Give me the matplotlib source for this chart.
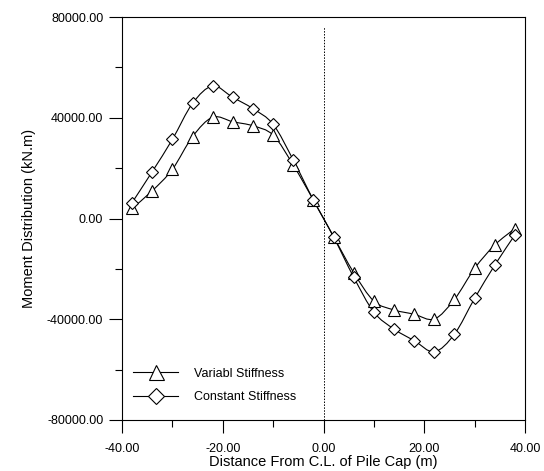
import numpy as np
import matplotlib
matplotlib.use('Agg')
import matplotlib.pyplot as plt
from matplotlib.path import Path
from matplotlib.patches import PathPatch
from matplotlib.ticker import MultipleLocator, FormatStrFormatter

plt.rcParams['font.family'] = ['Liberation Sans', 'DejaVu Sans']

# distance of each pile from the cap centre line (m)
distance = [-38, -34, -30, -26, -22, -18, -14, -10, -6, -2,
            2, 6, 10, 14, 18, 22, 26, 30, 34, 38]

# bending moment (kN.m)
moment_variable = [4000, 11000, 19500, 32500, 40200, 38400, 36800, 33100, 21200, 7300,
                   -7200, -21500, -32800, -36300, -38000, -39900, -32100, -19800, -10500, -4000]
moment_constant = [6300, 18600, 31400, 45700, 52600, 48100, 43600, 37400, 23200, 7300,
                   -7300, -23300, -37200, -43900, -48500, -52900, -45900, -31700, -18500, -6500]


def smooth_path(x, y):
    # Catmull-Rom curve through the points, written as cubic Bezier segments
    x = np.asarray(x, float)
    y = np.asarray(y, float)
    pts = np.column_stack([x, y])
    n = len(pts)
    verts = [pts[0]]
    codes = [Path.MOVETO]
    for i in range(n - 1):
        p0 = pts[i - 1] if i > 0 else pts[i]
        p1 = pts[i]
        p2 = pts[i + 1]
        p3 = pts[i + 2] if i + 2 < n else pts[i + 1]
        c1 = p1 + (p2 - p0) / 6.0
        c2 = p2 - (p3 - p1) / 6.0
        verts += [c1, c2, p2]
        codes += [Path.CURVE4] * 3
    return Path(verts, codes)


fig = plt.figure(figsize=(5.44, 4.71), dpi=100)
ax = fig.add_axes([122 / 544, 51 / 471, 403 / 544, 403 / 471])

for xs, ys in [(distance, moment_variable), (distance, moment_constant)]:
    ax.add_patch(PathPatch(smooth_path(xs, ys), facecolor='none', edgecolor='black', lw=0.8))

ax.plot(distance, moment_variable, linestyle='none', marker='^', markersize=8,
        markerfacecolor='white', markeredgecolor='black', markeredgewidth=0.8)
ax.plot(distance, moment_constant, linestyle='none', marker='D', markersize=6,
        markerfacecolor='white', markeredgecolor='black', markeredgewidth=0.8)

# legend entries
ax.plot([], [], color='black', lw=0.8, marker='^', markersize=8,
        markerfacecolor='white', markeredgewidth=0.8, label='Variabl Stiffness')
ax.plot([], [], color='black', lw=0.8, marker='D', markersize=6,
        markerfacecolor='white', markeredgewidth=0.8, label='Constant Stiffness')

# centre line of the pile cap
ax.vlines(0, -80000, 76000, colors='black', linestyles=(0, (1.5, 1.5)), lw=0.7)

ax.set_xlim(-40, 40)
ax.set_ylim(-80000, 80000)
ax.xaxis.set_major_locator(MultipleLocator(20))
ax.xaxis.set_minor_locator(MultipleLocator(10))
ax.yaxis.set_major_locator(MultipleLocator(40000))
ax.yaxis.set_minor_locator(MultipleLocator(20000))
ax.xaxis.set_major_formatter(FormatStrFormatter('%.2f'))
ax.yaxis.set_major_formatter(FormatStrFormatter('%.2f'))
ax.tick_params(which='major', direction='out', length=9.5, width=0.8, labelsize=9, pad=4)
ax.tick_params(which='minor', direction='out', length=5, width=0.8)
ax.tick_params(axis='x', which='major', pad=7)
ax.tick_params(top=False, right=False)
for s in ax.spines.values():
    s.set_linewidth(0.8)

ax.set_xlabel('Distance From C.L. of Pile Cap (m)', fontsize=10.5, labelpad=0)
ax.set_ylabel('Moment Distribution (kN.m)', fontsize=10.5, labelpad=8)

ax.legend(loc='lower left', frameon=False, fontsize=9, handlelength=3.6, markerscale=1.35,
          handletextpad=1.3, labelspacing=0.9, borderaxespad=0.0,
          bbox_to_anchor=(0.015, 0.03))

fig.savefig('out.png', dpi=100)
